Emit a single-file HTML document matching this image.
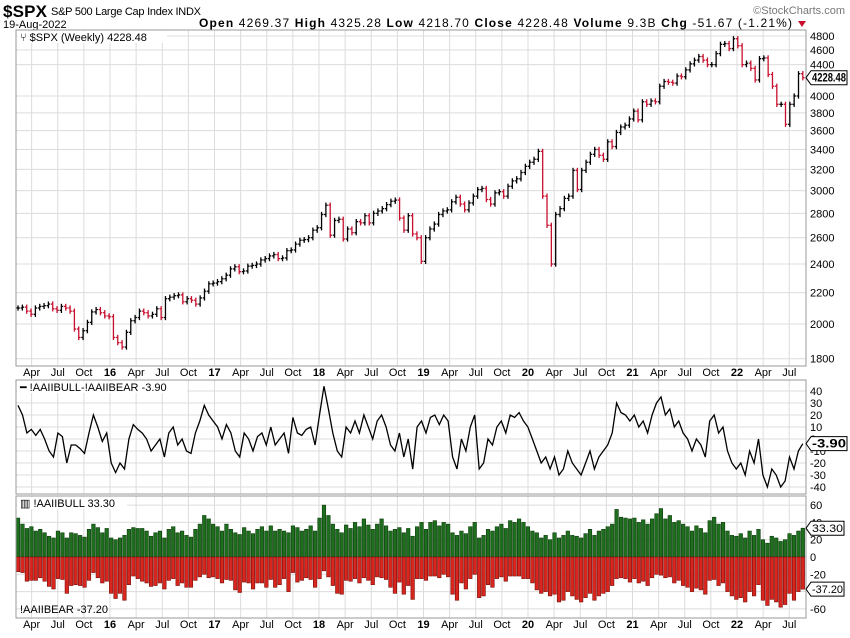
<!DOCTYPE html>
<html><head><meta charset="utf-8">
<style>
body{margin:0;background:#fff;width:850px;height:633px;overflow:hidden;font-family:"Liberation Sans",sans-serif}
svg text{font-family:"Liberation Sans",sans-serif}
</style></head>
<body>
<svg id="chart" width="850" height="633" xmlns="http://www.w3.org/2000/svg">
<text x="3" y="17" font-size="17" font-weight="bold" textLength="44">$SPX</text>
<text x="51" y="15" font-size="11" textLength="150">S&amp;P 500 Large Cap Index  INDX</text>
<text x="3" y="28" font-size="11">19-Aug-2022</text>
<text x="845" y="14" font-size="11" fill="#777" text-anchor="end">©StockCharts.com</text>
<text x="199" y="27" font-size="12" textLength="593"><tspan font-weight="bold">Open</tspan> 4269.37  <tspan font-weight="bold">High</tspan> 4325.28  <tspan font-weight="bold">Low</tspan> 4218.70  <tspan font-weight="bold">Close</tspan> 4228.48  <tspan font-weight="bold">Volume</tspan> 9.3B  <tspan font-weight="bold">Chg</tspan> -51.67 (-1.21%)</text>
<path d="M798 21 L806 21 L802 27 Z" fill="#c8102e"/>
<g id="g"></g>
</svg>
<script>
const spxClose=[2100,2105,2080,2060,2100,2110,2115,2125,2095,2085,2110,2100,2080,1970,1920,1960,2010,2075,2090,2070,2050,2045,
1920,1890,1865,1950,2020,2040,2080,2070,2050,2060,2095,2040,2160,2170,2180,2185,2140,2160,2150,2125,2165,2210,2260,2265,
2275,2295,2320,2365,2380,2345,2350,2385,2390,2400,2430,2440,2460,2470,2440,2445,2500,2505,2550,2580,2585,2600,2660,2680,
2790,2870,2620,2740,2750,2590,2670,2640,2730,2720,2780,2720,2800,2820,2840,2875,2905,2915,2760,2660,2780,2630,2600,2420,
2600,2670,2710,2790,2820,2830,2900,2940,2880,2830,2890,2950,3010,3020,2920,2880,2980,2990,2950,3040,3090,3110,3170,3230,
3270,3300,3380,2950,2700,2400,2790,2840,2930,2950,3190,3010,3190,3270,3350,3400,3340,3300,3480,3430,3580,3640,3660,3730,
3820,3720,3930,3900,3940,3930,4120,4180,4170,4160,4250,4240,4330,4410,4460,4510,4460,4400,4400,4550,4680,4690,4620,4760,
4660,4400,4420,4350,4200,4480,4490,4270,4120,3900,3900,3670,3900,4000,4280,4228];
const bull=[45,38,33,35,30,32,28,24,22,30,28,22,28,27,25,23,32,38,34,28,33,22,
20,22,25,32,34,33,33,30,24,28,30,22,32,35,28,30,25,23,32,38,48,44,
38,35,30,38,32,28,26,34,30,27,32,35,30,36,30,32,30,28,36,34,30,32,36,30,
45,60,48,38,32,28,37,33,40,35,44,37,32,38,44,36,30,32,34,28,33,24,
35,40,32,40,42,36,40,38,28,25,30,27,35,40,22,25,32,30,35,38,33,42,40,44,
40,35,30,28,22,25,20,28,22,25,30,25,24,22,27,32,25,30,32,35,38,55,46,45,
44,45,40,43,38,44,50,56,44,48,40,42,38,35,30,36,33,28,42,46,38,40,30,25,
24,27,22,30,25,32,20,16,24,22,18,20,27,25,30,33.3];
const bear=[17,18,28,27,27,24,28,34,37,25,26,42,33,32,33,35,27,18,24,30,28,42,
48,42,50,32,22,25,28,30,34,33,30,37,27,25,33,30,35,35,27,23,20,24,
23,25,30,26,27,38,41,29,30,37,30,30,35,26,35,32,25,40,18,29,27,24,26,35,
25,16,23,33,42,43,27,28,25,30,24,27,32,23,24,26,35,42,29,43,33,49,
25,25,27,22,22,24,20,23,43,50,30,37,25,20,47,45,32,35,25,23,28,22,22,22,
25,25,30,38,42,40,45,43,52,50,40,45,49,52,47,42,50,45,42,40,33,25,24,25,
29,25,30,28,33,24,20,21,24,23,30,27,33,35,40,36,38,43,27,26,33,30,40,45,
49,47,52,40,45,32,50,56,49,52,58,55,42,50,40,37.2];
const spxTicks=[1800,2000,2200,2400,2600,2800,3000,3200,3400,3600,3800,4000,4400,4600,4800];
const spreadTicks=[40,30,20,10,0,-10,-20,-30,-40];
const sentTicks=[60,40,20,0,-20,-40,-60];
const monthNames=["","","","Apr","","","Jul","","","Oct"];

const NS="http://www.w3.org/2000/svg";
const G=document.getElementById('g');
function el(tag,attrs,parent){const e=document.createElementNS(NS,tag);for(const k in attrs)e.setAttribute(k,attrs[k]);(parent||G).appendChild(e);return e;}
const L=16,R=806,T0=2015.12,T1=2022.63;
const N=spxClose.length;
const M=Math.min(bull.length,bear.length);
function xt(t){return 110+(t-2016)*104.5;}
function xi(i){return xt(T0+i*(T1-T0)/(N-1));}
function xs(i){return xt(T0+i*(T1-T0)/(M-1));}
function y1(v){return 36+Math.log(4800/v)*329;}
function y2(v){return 439-v*1.2;}
function y3(v){return 557-v*0.865;}
const P1={t:30,b:366},P2={t:380,b:494},P3={t:496,b:618};

[P1,P2,P3].forEach((p)=>{
  for(let yr=2015;yr<=2022;yr++)for(const m of [0,3,6,9]){
    const x=xt(yr+m/12);if(x<L||x>R)continue;
    const gl=el('line',{x1:x,x2:x,y1:p.t,y2:p.b,stroke:'#dcdcdc','stroke-width':1});
    
    
  }
});
spxTicks.forEach(v=>{const y=y1(v);
  const l=el('line',{x1:L,x2:R,y1:y,y2:y,stroke:'#dcdcdc'});
  const t=el('text',{x:810,y:y+4,'font-size':11});t.textContent=v;});
spreadTicks.forEach(v=>{const y=y2(v);
  const l=el('line',{x1:L,x2:R,y1:y,y2:y,stroke:'#dcdcdc'});
  const t=el('text',{x:810,y:y+4,'font-size':11});t.textContent=v;});
sentTicks.forEach(v=>{const y=y3(v);
  const l=el('line',{x1:L,x2:R,y1:y,y2:y,stroke:'#dcdcdc'});
  const t=el('text',{x:810,y:y+4,'font-size':11});t.textContent=v;});

[376,628].forEach(ly=>{
  for(let yr=2015;yr<=2022;yr++)for(const m of [0,3,6,9]){
    const x=xt(yr+m/12);if(x<L||x>R)continue;
    const t=el('text',{x:x,y:ly,'font-size':11,'text-anchor':'middle'});
    if(m===0){t.textContent=String(yr).slice(2);t.setAttribute('font-weight','bold');}else t.textContent=monthNames[m];
    
    
  }
});

for(let i=0;i<N;i++){
  const c=spxClose[i],o=i?spxClose[i-1]:c;
  const hi=Math.max(o,c)*1.008,lo=Math.min(o,c)*0.992,x=xi(i);
  const col=c<o?'#c8102e':'#000';
  const g=el('g',{stroke:col,'stroke-width':1.3});
  
  
  el('line',{x1:x,x2:x,y1:y1(hi),y2:y1(lo)},g);
  el('line',{x1:x-1.8,x2:x,y1:y1(o),y2:y1(o)},g);
  el('line',{x1:x,x2:x+1.8,y1:y1(c),y2:y1(c)},g);
}
let d='';
for(let i=0;i<M;i++){d+=(i?'L':'M')+xs(i).toFixed(1)+' '+y2(bull[i]-bear[i]).toFixed(1);}
const sl=el('path',{d:d,fill:'none',stroke:'#000','stroke-width':1.3});


const bw=(xs(1)-xs(0))*0.8;
for(let i=0;i<M;i++){
  const x=xs(i)-bw/2;
  const gb=el('rect',{x:x,y:y3(bull[i]),width:bw,height:y3(0)-y3(bull[i]),fill:'#1f6e1f',stroke:'#0b3d0b','stroke-width':0.6});
  
  
  const rb=el('rect',{x:x,y:y3(0),width:bw,height:y3(-bear[i])-y3(0),fill:'#d8261e',stroke:'#7a0c08','stroke-width':0.6});
  
  
}
[P1,P2,P3].forEach(p=>{const r=el('rect',{x:L,y:p.t,width:R-L,height:p.b-p.t,fill:'none',stroke:'#999'});
  });

function lab(x,y,s,name){const t=el('text',{x:x,y:y,'font-size':11});t.textContent=s;return t;}
const b1=el('rect',{x:17,y:31,width:150,height:12,fill:'#fff'});
lab(20,41,'⑂ $SPX (Weekly) 4228.48','price-legend');
const b2=el('rect',{x:17,y:381,width:170,height:12,fill:'#fff'});
lab(20,391,'━ !AAIIBULL-!AAIIBEAR -3.90','spread-legend');
const b3=el('rect',{x:17,y:497,width:110,height:12,fill:'#fff'});
lab(20,507,'▥ !AAIIBULL 33.30','bull-legend');
lab(20,613,'!AAIIBEAR -37.20','bear-legend');

function tag(y,s,name,bold){
  const g=el('g',{});
  const w=bold?36:33;
  el('path',{d:`M806 ${y} L811 ${y-7} L${811+w} ${y-7} L${811+w} ${y+7} L811 ${y+7} Z`,fill:'#fff',stroke:'#000','stroke-width':1},g);
  const t=el('text',{x:812,y:y+4,'font-size':bold?12:11,'font-weight':bold?'bold':'normal',textLength:w-2,lengthAdjust:'spacingAndGlyphs'},g);t.textContent=s;
}
tag(y1(4228.48),'4228.48','last-price-tag',true);
tag(y2(-3.9),'-3.90','last-spread-tag',true);
tag(y3(33.3),'33.30','last-bull-tag',false);
tag(y3(-37.2),'-37.20','last-bear-tag',false);
</script>
</body></html>
